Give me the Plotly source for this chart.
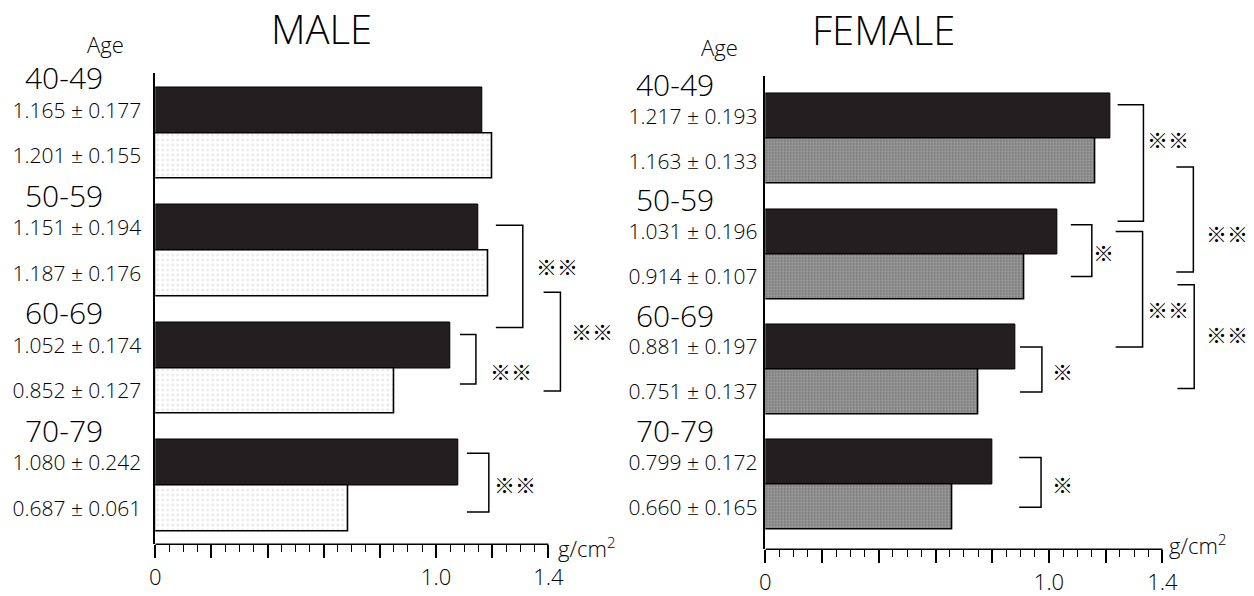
import plotly.graph_objects as go

# ---------------- data ----------------
age_groups = ["40-49", "50-59", "60-69", "70-79"]

male_dark_mean = [1.165, 1.151, 1.052, 1.080]
male_dark_sd = [0.177, 0.194, 0.174, 0.242]
male_light_mean = [1.201, 1.187, 0.852, 0.687]
male_light_sd = [0.155, 0.176, 0.127, 0.061]

female_dark_mean = [1.217, 1.031, 0.881, 0.799]
female_dark_sd = [0.193, 0.196, 0.197, 0.172]
female_light_mean = [1.163, 0.914, 0.751, 0.660]
female_light_sd = [0.133, 0.107, 0.137, 0.165]

x_labeled = [0, 1.0, 1.4]
x_labeled_text = ["0", "1.0", "1.4"]
x_unlabeled = [0.2, 0.4, 0.6, 0.8, 1.2]
x_minor = [round(i * 0.05, 2) for i in range(29) if i % 4 != 0]

# significance brackets between two bars:
# (group_a, bar_a, group_b, bar_b, x_left, x_right, mark, mark_x, mark_frac, trim_top, trim_bottom)
male_brackets = [
    (1, "d", 2, "d", 1.213, 1.309, "※※", 1.43, 0.40, -0.02, -0.15),
    (1, "l", 2, "l", 1.383, 1.443, "※※", 1.557, 0.39, 0.16, 0.0),
    (2, "d", 2, "l", 1.085, 1.142, "※※", 1.266, 0.74, -0.09, -0.06),
    (3, "d", 3, "l", 1.110, 1.188, "※※", 1.28, 0.53, -0.08, 0.03),
]
female_brackets = [
    (0, "d", 1, "d", 1.242, 1.333, "※※", 1.421, 0.29, -0.10, -0.09),
    (0, "l", 1, "l", 1.449, 1.509, "※※", 1.628, 0.63, 0.05, -0.04),
    (1, "d", 1, "l", 1.077, 1.151, "※", 1.193, 0.52, -0.06, 0.0),
    (1, "d", 2, "d", 1.235, 1.330, "※※", 1.421, 0.67, 0.0, 0.0),
    (1, "l", 2, "l", 1.453, 1.512, "※※", 1.628, 0.48, 0.07, -0.03),
    (2, "d", 2, "l", 0.898, 0.975, "※", 1.049, 0.53, 0.0, 0.0),
    (3, "d", 3, "l", 0.895, 0.972, "※", 1.046, 0.54, -0.04, 0.0),
]

# ---------------- style ----------------
W, H = 1254, 596
FONT = "Open Sans"
CJK = "Noto Sans CJK JP"
BLACK = "#231f20"
BAR_W = 0.39
OFF = 0.195


def X(px):
    return px / W


def Y(py):
    return 1 - py / H


def pos(g, b):
    return g - OFF if b == "d" else g + OFF


def fmt(m, s):
    return f"{m:.3f} ± {s:.3f}"


fig = go.Figure()

panels = [
    dict(xa="x", ya="y", dark=male_dark_mean, dsd=male_dark_sd, light=male_light_mean, lsd=male_light_sd,
         pattern=dict(shape=".", bgcolor="white", fgcolor="#c4c4c4", size=5, solidity=0.18),
         brackets=male_brackets),
    dict(xa="x2", ya="y2", dark=female_dark_mean, dsd=female_dark_sd, light=female_light_mean, lsd=female_light_sd,
         pattern=dict(shape=".", bgcolor="#9e9e9e", fgcolor="#2e2e2e", size=3, solidity=0.3),
         brackets=female_brackets),
]

shapes = []
annotations = []
for p in panels:
    yd = [pos(g, "d") for g in range(len(age_groups))]
    yl = [pos(g, "l") for g in range(len(age_groups))]
    fig.add_trace(go.Bar(x=p["dark"], y=yd, orientation="h", width=BAR_W,
                         marker=dict(color=BLACK, line=dict(color="black", width=1)),
                         xaxis=p["xa"], yaxis=p["ya"], showlegend=False, hoverinfo="skip"))
    fig.add_trace(go.Bar(x=p["light"], y=yl, orientation="h", width=BAR_W,
                         marker=dict(color="white", pattern=p["pattern"], line=dict(color="black", width=1.6)),
                         xaxis=p["xa"], yaxis=p["ya"], showlegend=False, hoverinfo="skip"))
    # x-axis baseline from 0 to 1.4
    shapes.append(dict(type="line", xref=p["xa"], yref=p["ya"] + " domain", x0=0, x1=x_labeled[-1], y0=0, y1=0,
                       line=dict(color="black", width=1.5)))
    for (ga, ba, gb, bb, xl, xr, mark, mx, mf, tt, tb) in p["brackets"]:
        y0, y1 = pos(ga, ba) + tt, pos(gb, bb) + tb
        shapes.append(dict(type="path", xref=p["xa"], yref=p["ya"],
                           path=f"M {xl},{y0} L {xr},{y0} L {xr},{y1} L {xl},{y1}",
                           line=dict(color="black", width=1.5)))
        annotations.append(dict(x=mx, y=y0 + (y1 - y0) * mf, xref=p["xa"], yref=p["ya"], text=mark,
                                showarrow=False, xanchor="center", yanchor="middle",
                                font=dict(family=CJK, size=21, color="black")))

# age group labels
age_off = [-0.47, -0.47]
age_x = [X(58), X(672)]
for i, ya in enumerate(["y", "y2"]):
    for g, lab in enumerate(age_groups):
        annotations.append(dict(x=age_x[i], y=g + age_off[i], xref="paper", yref=ya, text=lab,
                                showarrow=False, xanchor="center", yanchor="middle",
                                font=dict(family=FONT, size=30, color="black", weight=300)))


# titles, "Age", units
def label(px, py, text, size, xanchor="center"):
    return dict(x=X(px), y=Y(py), xref="paper", yref="paper", text=text, showarrow=False,
                xanchor=xanchor, yanchor="middle", font=dict(family=FONT, size=size, color="black", weight=300))


annotations += [
    label(317.5, 29, "MALE", 40),
    label(881.5, 30, "FEMALE", 40),
    label(100, 44, "Age", 22),
    label(717, 47, "Age", 22),
    label(553, 551, "g/cm<sup>2</sup>", 22, "left"),
    label(1167, 548, "g/cm<sup>2</sup>", 22, "left"),
]


def xaxis(domain, rng, anchor):
    return dict(domain=domain, range=rng, anchor=anchor, showline=False, showgrid=False, zeroline=False,
                ticks="outside", ticklen=13, tickwidth=1.5, tickcolor="black",
                tickvals=x_labeled, ticktext=x_labeled_text,
                tickfont=dict(family=FONT, size=22, color="black", weight=300),
                minor=dict(ticks="outside", tickvals=x_minor, ticklen=7, tickwidth=1.2, tickcolor="black"))


def xaxis_overlay(domain, rng, anchor, over):
    return dict(domain=domain, range=rng, anchor=anchor, overlaying=over, showline=False, showgrid=False,
                zeroline=False, ticks="outside", ticklen=13, tickwidth=1.5, tickcolor="black",
                tickvals=x_unlabeled, showticklabels=False)


def yaxis(domain, rng, anchor, dark, dsd, light, lsd, standoff):
    vals, texts = [], []
    for g in range(len(age_groups)):
        vals += [pos(g, "d"), pos(g, "l")]
        texts += [fmt(dark[g], dsd[g]), fmt(light[g], lsd[g])]
    return dict(domain=domain, range=rng, anchor=anchor, showline=True, linecolor="black", linewidth=1.5,
                showgrid=False, zeroline=False, ticks="", tickvals=vals, ticktext=texts,
                ticklabelstandoff=standoff,
                tickfont=dict(family=FONT, size=21, color="black", weight=300))


male_xdom = [X(150), X(643.7)]
female_xdom = [X(763), X(1253.2)]
male_ydom = [Y(548), Y(73)]
female_ydom = [Y(553), Y(77)]

fig.update_layout(
    width=W, height=H, margin=dict(l=0, r=0, t=0, b=0),
    paper_bgcolor="white", plot_bgcolor="white", barmode="overlay", bargap=0,
    xaxis=xaxis(male_xdom, [0, 1.75], "y"),
    xaxis2=xaxis(female_xdom, [0, 1.72], "y2"),
    xaxis3=xaxis_overlay(male_xdom, [0, 1.75], "y", "x"),
    xaxis4=xaxis_overlay(female_xdom, [0, 1.72], "y2", "x2"),
    yaxis=yaxis(male_ydom, [3.5, -0.516], "x", male_dark_mean, male_dark_sd,
                male_light_mean, male_light_sd, 8),
    yaxis2=yaxis(female_ydom, [3.56, -0.54], "x2", female_dark_mean, female_dark_sd,
                 female_light_mean, female_light_sd, 2),
    shapes=shapes, annotations=annotations,
)

# overlay axes need a trace each to be drawn
fig.add_trace(go.Scatter(x=[None], y=[None], xaxis="x3", yaxis="y", showlegend=False, hoverinfo="skip"))
fig.add_trace(go.Scatter(x=[None], y=[None], xaxis="x4", yaxis="y2", showlegend=False, hoverinfo="skip"))

fig.write_html("out.html", config={"displayModeBar": False},
               post_script="document.body.style.margin='0';document.body.style.overflow='hidden';")
